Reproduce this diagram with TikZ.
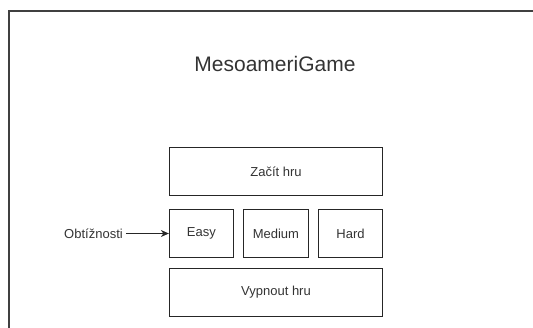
\documentclass[tikz,border=0pt]{standalone}
\usepackage{fontspec}
\setmainfont{Liberation Sans}
\usetikzlibrary{arrows.meta}
\begin{document}
\begin{tikzpicture}[x=1pt,y=-1pt,
  btn/.style={draw=black!85, line width=0.9pt, inner sep=0pt, font=\fontsize{13}{15}\selectfont, text=black!80},
  lbl/.style={inner sep=0pt, font=\fontsize{13}{15}\selectfont, text=black!80},
  ttl/.style={inner sep=0pt, font=\fontsize{21}{25}\selectfont, text=black!80},
  link/.style={draw=black!85, line width=0.9pt, -{Stealth[length=8pt,width=7pt,inset=2.5pt]}}]
  \useasboundingbox (0,0) rectangle (533,327);
  % outer screen frame, running off the right and bottom edges
  \begin{scope}
    \clip (0,0) rectangle (533,327);
    \draw[black!75, line width=1.1pt] (9,11) rectangle (545,340);
  \end{scope}
  \node[ttl] (title) at (275,63.5) {MesoameriGame};
  % menu buttons
  \node[btn, minimum width=213.4pt, minimum height=48.4pt] (start) at (276,171.5) {Začít hru};
  \node[btn, minimum width=64pt, minimum height=48.4pt] (easy) at (201.3,233.5) {Easy};
  \node[btn, minimum width=64.3pt, minimum height=48.4pt] (medium) at (275.9,233.5) {Medium};
  \node[btn, minimum width=64.4pt, minimum height=48.4pt] (hard) at (350.5,233.5) {Hard};
  \node[btn, minimum width=213.4pt, minimum height=48.4pt] (quit) at (276,292.5) {Vypnout hru};
  % difficulty caption with its pointer to the first level
  \node[lbl] (diff) at (93.5,233.5) {Obtížnosti};
  \path (diff.east) ++(3pt,0) coordinate (diffout);
  \draw[link] (diffout) -- (easy.west);
\end{tikzpicture}
\end{document}
